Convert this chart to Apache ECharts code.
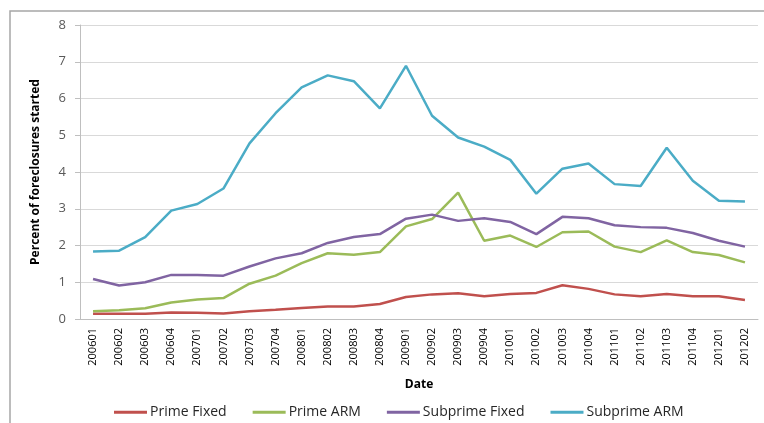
<html>
<head>
<title>Percent of foreclosures started</title>
<script src="https://cdn.jsdelivr.net/npm/echarts@6/dist/echarts.min.js"></script>
</head>
<body>
<style>
    html, body {
        margin: 0;
        background: #fff;
    }
    #main {
        width: 764px;
        height: 423px;
    }
</style>
<div id="main"></div>

<script>

// quarters on the x axis
let dates = ['200601','200602','200603','200604','200701','200702','200703','200704',
    '200801','200802','200803','200804','200901','200902','200903','200904',
    '201001','201002','201003','201004','201101','201102','201103','201104',
    '201201','201202'];

let primeFixed = [0.14,0.14,0.14,0.18,0.17,0.15,0.21,0.25,0.30,0.34,0.34,0.41,
    0.60,0.67,0.70,0.62,0.68,0.71,0.92,0.82,0.67,0.62,0.68,0.62,0.62,0.52];

let primeArm = [0.21,0.24,0.29,0.45,0.53,0.57,0.96,1.18,1.52,1.79,1.75,1.82,
    2.52,2.72,3.44,2.13,2.27,1.96,2.36,2.38,1.97,1.82,2.14,1.82,1.74,1.54];

let subprimeFixed = [1.09,0.91,1.00,1.20,1.20,1.18,1.43,1.65,1.79,2.07,2.23,2.31,
    2.73,2.84,2.67,2.74,2.64,2.31,2.78,2.74,2.55,2.50,2.48,2.34,2.13,1.97];

let subprimeArm = [1.84,1.86,2.23,2.95,3.13,3.55,4.78,5.60,6.30,6.63,6.47,5.73,
    6.89,5.53,4.94,4.69,4.33,3.41,4.09,4.23,3.67,3.62,4.66,3.76,3.22,3.20];

let font = '"Open Sans", "Liberation Sans", sans-serif';

function line(name, data, color) {
    return {
        name: name,
        type: 'line',
        data: data,
        symbol: 'none',
        lineStyle: { width: 2.5, color: color },
        itemStyle: { color: color }
    };
}

var myChart = echarts.init(document.getElementById('main'));

option = {
    animation: false,
    textStyle: { fontFamily: font },
    graphic: [
        {
            type: 'rect',
            shape: { x: 10, y: 11, width: 800, height: 500 },
            style: { fill: 'none', stroke: '#A6A6A6', lineWidth: 1.5 }
        }
    ],
    grid: { left: 80, right: 6, top: 25, bottom: 104 },
    legend: {
        top: 396,
        left: 109,
        icon: 'rect',
        itemWidth: 33,
        itemHeight: 3,
        itemGap: 26,
        textStyle: { fontSize: 14, color: '#262626', fontFamily: font, padding: [0, 0, 0, -2] },
        data: ['Prime Fixed', 'Prime ARM', 'Subprime Fixed', 'Subprime ARM']
    },
    xAxis: {
        type: 'category',
        data: dates,
        boundaryGap: true,
        name: 'Date',
        nameLocation: 'middle',
        nameGap: 53,
        nameTextStyle: { fontWeight: 'bold', fontSize: 12, color: '#000' },
        axisLine: { lineStyle: { color: '#BFBFBF' } },
        axisTick: { show: false },
        axisLabel: { rotate: 90, interval: 0, fontSize: 11, color: '#000', margin: 9 }
    },
    yAxis: {
        type: 'value',
        min: 0,
        max: 8,
        interval: 1,
        name: 'Percent of foreclosures started',
        nameLocation: 'middle',
        nameGap: 33,
        nameTextStyle: { fontWeight: 'bold', fontSize: 12, color: '#000' },
        axisLine: { show: true, lineStyle: { color: '#BFBFBF' } },
        axisTick: { show: true, length: 5, lineStyle: { color: '#BFBFBF' } },
        axisLabel: { fontSize: 13, color: '#595959', margin: 14 },
        splitLine: { lineStyle: { color: '#D9D9D9', width: 1.2 } }
    },
    series: [
        line('Prime Fixed', primeFixed, '#C0504D'),
        line('Prime ARM', primeArm, '#9BBB59'),
        line('Subprime Fixed', subprimeFixed, '#8064A2'),
        line('Subprime ARM', subprimeArm, '#4BACC6')
    ]
};
myChart.setOption(option);

</script>
</body>
</html>
